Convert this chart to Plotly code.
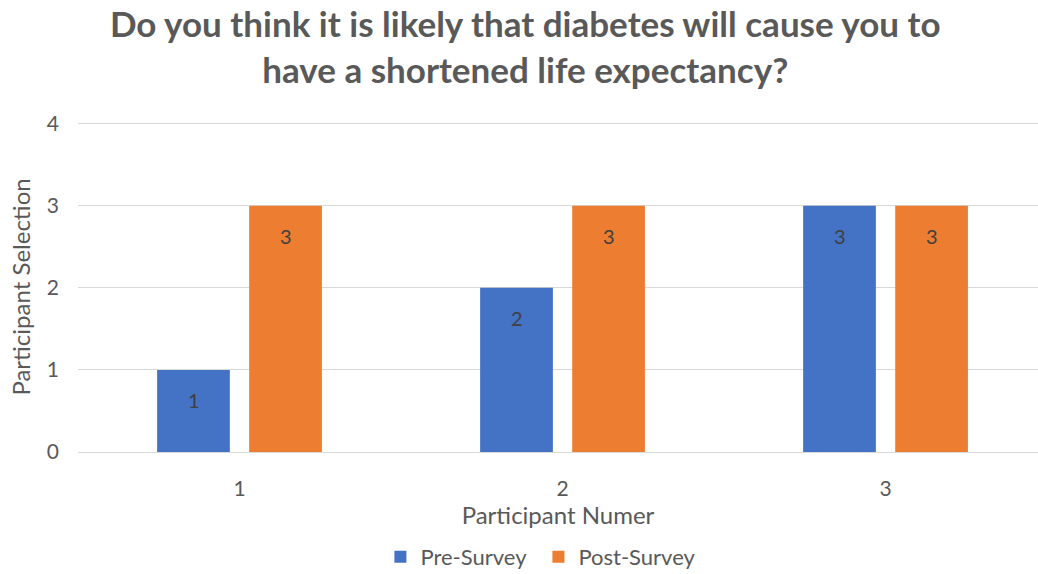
import plotly.graph_objects as go

# Survey responses per participant
participants = ["1", "2", "3"]
pre_survey = [1, 2, 3]
post_survey = [3, 3, 3]
y_ticks = [0, 1, 2, 3, 4]

title_text = ("Do you think it is likely that diabetes will cause you to<br>"
              "have a shortened life expectancy?")

FONT = "Lato, 'Open Sans', sans-serif"
TEXT_GREY = "#595959"
LABEL_GREY = "#404040"
BLUE = "#4472C4"
ORANGE = "#ED7D31"
GRID = "#D9D9D9"

fig = go.Figure()
fig.add_trace(go.Bar(name="Pre-Survey", x=participants, y=pre_survey,
                     marker=dict(color=BLUE, line=dict(width=0))))
fig.add_trace(go.Bar(name="Post-Survey", x=participants, y=post_survey,
                     marker=dict(color=ORANGE, line=dict(width=0))))

# Value labels sit just inside the top of each bar
for values, shift in ((pre_survey, -46), (post_survey, 46)):
    for idx, v in enumerate(values):
        fig.add_annotation(x=idx, y=v, text=str(v), showarrow=False,
                           xshift=shift, yshift=-30,
                           font=dict(family=FONT, size=20, color=LABEL_GREY))

fig.update_layout(
    width=1038, height=574,
    margin=dict(l=78, r=0, t=122, b=122, autoexpand=False),
    paper_bgcolor="white", plot_bgcolor="white",
    barmode="group", bargap=0.43, bargroupgap=0.21,
    font=dict(family=FONT, color=TEXT_GREY),
    title=dict(text=title_text, x=0.506, xanchor="center",
               yref="container", y=0.935, yanchor="middle",
               font=dict(family=FONT, size=35, color=TEXT_GREY, weight="bold")),
    showlegend=True,
    legend=dict(orientation="h", x=0.4796, xanchor="center", y=-0.318,
                yanchor="middle", font=dict(family=FONT, size=22, color=TEXT_GREY),
                traceorder="normal", itemwidth=30, entrywidth=113),
)

fig.update_xaxes(
    type="category", range=[-0.5, 2.472], automargin=False,
    showgrid=False, showline=False, zeroline=False, ticks="",
    tickfont=dict(family=FONT, size=21, color=TEXT_GREY),
    ticklabelstandoff=22,
    title=dict(text="Participant Numer", standoff=4,
               font=dict(family=FONT, size=24, color=TEXT_GREY)),
)
fig.update_yaxes(
    range=[0, 4.02], tickvals=y_ticks, automargin=False,
    showgrid=True, gridcolor=GRID, gridwidth=1.3,
    zeroline=True, zerolinecolor=GRID, zerolinewidth=1.3,
    showline=False, ticks="",
    tickfont=dict(family=FONT, size=21, color=TEXT_GREY),
    ticklabelstandoff=18,
    title=dict(text="Participant Selection", standoff=9,
               font=dict(family=FONT, size=24, color=TEXT_GREY)),
)

fig.write_html("out.html")
